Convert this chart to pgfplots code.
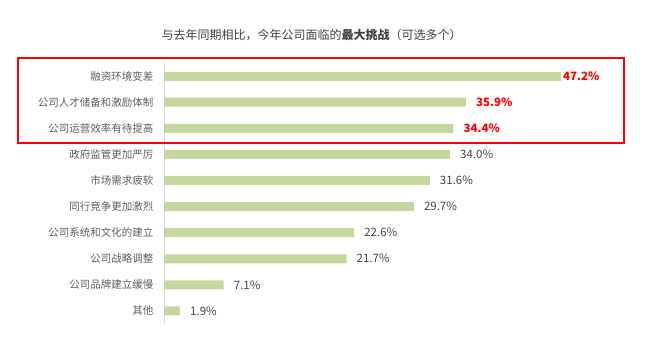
\documentclass[border=0pt]{standalone}
\usepackage{pgfplots}
\pgfplotsset{compat=1.18}
\usepackage{fontspec}
\setmainfont{Noto Sans CJK SC}
\definecolor{bargreen}{HTML}{C4D79F}
\definecolor{txt}{HTML}{404040}
\definecolor{axgray}{HTML}{D9D9D9}
\definecolor{hired}{HTML}{FF0000}
\begin{document}
\begin{tikzpicture}[x=1pt,y=1pt]
\path[use as bounding box] (0,0) rectangle (647,-338);
\node[text=txt, font=\fontsize{12}{14}\selectfont] at (311.5,-35) {与去年同期相比，今年公司面临的\textbf{最大挑战}（可选多个）};
\begin{axis}[
  at={(164pt,-63pt)}, anchor=north west,
  scale only axis, width=462.6pt, height=261pt,
  xmin=0, xmax=55, ymin=-0.5, ymax=9.5,
  y dir=reverse,
  xbar, bar width=9pt, bar shift=0pt,
  axis x line=none,
  axis y line*=left,
  y axis line style={axgray, line width=0.8pt, -},
  ytick={0,...,9}, major tick length=0pt,
  yticklabel style={text=txt!85, font=\fontsize{10.5}{12}\selectfont, xshift=-7pt},
  yticklabels={融资环境变差,公司人才储备和激励体制,公司运营效率有待提高,政府监管更加严厉,市场需求疲软,同行竞争更加激烈,公司系统和文化的建立,公司战略调整,公司品牌建立缓慢,其他},
  nodes near coords={\pgfmathprintnumber[fixed,precision=1,fixed zerofill,assume math mode=true]{\pgfplotspointmeta}\%},
  every node near coord/.append style={font=\fontsize{11.5}{13}\selectfont, anchor=west, inner xsep=0pt},
  clip=false,
]
\addplot[fill=bargreen, draw=none, every node near coord/.append style={text=hired, font=\bfseries\fontsize{11.5}{13}\selectfont, xshift=2pt}] coordinates {(47.2,0)};
\addplot[fill=bargreen, draw=none, every node near coord/.append style={text=hired, font=\bfseries\fontsize{11.5}{13}\selectfont, xshift=10pt}] coordinates {(35.9,1) (34.4,2)};
\addplot[fill=bargreen, draw=none, every node near coord/.append style={text=txt, xshift=10pt}] coordinates {(34.0,3) (31.6,4) (29.7,5) (22.6,6) (21.7,7) (7.1,8) (1.9,9)};
\end{axis}
\draw[hired, line width=2pt] (18,-58) rectangle (624,-143);
\end{tikzpicture}
\end{document}
